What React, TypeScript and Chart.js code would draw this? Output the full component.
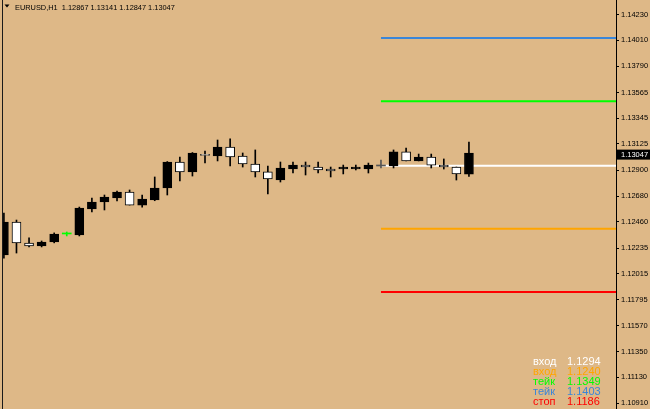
import React, { useEffect, useRef } from 'react';
import { Chart, registerables } from 'chart.js';

Chart.register(...registerables);

const SYMBOL = 'EURUSD';
const TIMEFRAME = 'H1';

const OPEN = [
  1.12176, 1.12458, 1.12279, 1.12253, 1.12287, 1.12356, 1.12347, 1.12569, 1.12629, 1.12663,
  1.12715, 1.12603, 1.12646, 1.12749, 1.12971, 1.12886, 1.13036, 1.13022, 1.13099, 1.13022,
  1.12954, 1.12886, 1.12817, 1.12911, 1.12945, 1.12928, 1.12911, 1.12911, 1.12911, 1.12911,
  1.12937, 1.12937, 1.13057, 1.12980, 1.13014, 1.12945, 1.12928, 1.12867,
];
const HIGH = [
  1.12535, 1.12475, 1.12322, 1.12296, 1.12365, 1.12373, 1.12586, 1.12663, 1.12689, 1.12723,
  1.12732, 1.12689, 1.12843, 1.12975, 1.13014, 1.13052, 1.13065, 1.13159, 1.13168, 1.13048,
  1.13074, 1.12937, 1.12971, 1.12971, 1.12971, 1.12971, 1.12928, 1.12945, 1.12945, 1.12962,
  1.12988, 1.13074, 1.13091, 1.13039, 1.13039, 1.12997, 1.12928, 1.13141,
];
const LOW = [
  1.12150, 1.12193, 1.12245, 1.12245, 1.12280, 1.12339, 1.12339, 1.12544, 1.12561, 1.12638,
  1.12603, 1.12586, 1.12640, 1.12689, 1.12809, 1.12851, 1.12963, 1.12980, 1.12937, 1.12928,
  1.12843, 1.12698, 1.12800, 1.12877, 1.12860, 1.12877, 1.12843, 1.12869, 1.12903, 1.12877,
  1.12920, 1.12920, 1.12980, 1.12980, 1.12920, 1.12911, 1.12817, 1.12847,
];
const CLOSE = [
  1.12458, 1.12279, 1.12253, 1.12287, 1.12356, 1.12356, 1.12578, 1.12629, 1.12672, 1.12715,
  1.12603, 1.12655, 1.12749, 1.12971, 1.12886, 1.13048, 1.13028, 1.13099, 1.13014, 1.12954,
  1.12886, 1.12826, 1.12920, 1.12945, 1.12928, 1.12903, 1.12894, 1.12928, 1.12928, 1.12945,
  1.12937, 1.13057, 1.12980, 1.13014, 1.12945, 1.12928, 1.12869, 1.13047,
];

const Y_TICKS = [
  1.14230, 1.14010, 1.13790, 1.13565, 1.13345, 1.13125, 1.12900, 1.12680,
  1.12460, 1.12235, 1.12015, 1.11795, 1.11570, 1.11350, 1.11130, 1.10910,
];

const LEVEL_NAMES = ['вход', 'вход', 'тейк', 'тейк', 'стоп'];
const LEVEL_VALUES = [1.1294, 1.1240, 1.1349, 1.1403, 1.1186];
const LEVEL_COLORS = ['#FFFFFF', '#FFA500', '#00FF00', '#3A86D8', '#FF0000'];
const LEVEL_START = 30;

const Y_MIN = 1.1086;
const Y_MAX = 1.143556;
const X_MIN = -0.072;
const X_MAX = 48.7;

const BG = '#DEB887';

function dojiColor(i: number) {
  return i === 5 ? '#00FF00' : '#555555';
}

function bodyFill(i: number) {
  const o = OPEN[i];
  const c = CLOSE[i];
  if (o === c) return dojiColor(i);
  return c > o ? '#000000' : '#FFFFFF';
}

function bodyBorder(i: number) {
  return OPEN[i] === CLOSE[i] ? dojiColor(i) : '#000000';
}

const overlay = {
  id: 'overlay',
  afterDraw(chart: any) {
    const ctx = chart.ctx as CanvasRenderingContext2D;
    const ys = chart.scales.y;
    ctx.save();
    // left border
    ctx.fillStyle = '#1a1a1a';
    ctx.fillRect(2, 0, 1, chart.height);
    // title
    ctx.fillStyle = '#000';
    ctx.beginPath();
    ctx.moveTo(4.5, 4.5);
    ctx.lineTo(9.5, 4.5);
    ctx.lineTo(7, 7.5);
    ctx.closePath();
    ctx.fill();
    const n = CLOSE.length - 1;
    const title = `${SYMBOL},${TIMEFRAME}  ${OPEN[n].toFixed(5)} ${HIGH[n].toFixed(5)} ${LOW[n].toFixed(5)} ${CLOSE[n].toFixed(5)}`;
    ctx.font = '7.4px "Liberation Sans"';
    ctx.textAlign = 'left';
    ctx.textBaseline = 'alphabetic';
    ctx.fillText(title, 15, 9.5);
    // current price box
    const last = CLOSE[n];
    const py = ys.getPixelForValue(last);
    ctx.fillStyle = '#000';
    ctx.fillRect(617, py - 3.5, 33, 10);
    ctx.fillStyle = '#FFF';
    ctx.font = '7.5px "Liberation Sans"';
    ctx.textBaseline = 'middle';
    ctx.fillText(last.toFixed(5), 621, py + 1.5);
    // legend of levels
    ctx.font = '11px "Liberation Sans"';
    ctx.textBaseline = 'alphabetic';
    LEVEL_NAMES.forEach((name, i) => {
      ctx.fillStyle = LEVEL_COLORS[i];
      ctx.fillText(name, 533, 365 + 10 * i);
      ctx.fillText(LEVEL_VALUES[i].toFixed(4), 567, 365 + 10 * i);
    });
    ctx.restore();
  },
};

export default function App() {
  const ref = useRef<HTMLCanvasElement | null>(null);

  useEffect(() => {
    if (!ref.current) return;
    const idx = OPEN.map((_, i) => i);
    const levelSets = LEVEL_VALUES.map((v, i) => ({
      type: 'line' as const,
      data: [
        { x: LEVEL_START, y: v },
        { x: X_MAX, y: v },
      ],
      borderColor: LEVEL_COLORS[i],
      borderWidth: 2,
      pointRadius: 0,
      fill: false,
      order: 3,
    }));
    const chart = new Chart(ref.current, {
      type: 'bar',
      data: {
        datasets: [
          ...levelSets,
          {
            type: 'bar',
            data: idx.map((i) => ({ x: i, y: [LOW[i], HIGH[i]] })),
            backgroundColor: idx.map((i) => (OPEN[i] === CLOSE[i] ? dojiColor(i) : '#000000')),
            borderWidth: 0,
            barThickness: 1,
            grouped: false,
            minBarLength: 1,
            order: 2,
          },
          {
            type: 'bar',
            data: idx.map((i) => ({ x: i, y: [OPEN[i], CLOSE[i]] })),
            backgroundColor: idx.map((i) => bodyFill(i)),
            borderColor: idx.map((i) => bodyBorder(i)),
            borderWidth: idx.map((i) => (OPEN[i] === CLOSE[i] ? 0 : 1)),
            borderSkipped: false,
            barThickness: 9,
            grouped: false,
            minBarLength: 1,
            order: 1,
          },
        ] as any,
      },
      options: {
        animation: false,
        responsive: false,
        maintainAspectRatio: false,
        layout: { padding: { left: 3, right: 0, top: 0, bottom: 0 } },
        plugins: {
          legend: { display: false },
          tooltip: { enabled: false },
        },
        scales: {
          x: {
            type: 'linear',
            display: false,
            min: X_MIN,
            max: X_MAX,
            offset: false,
          },
          y: {
            type: 'linear',
            position: 'right',
            min: Y_MIN,
            max: Y_MAX,
            afterBuildTicks: (scale: any) => {
              scale.ticks = Y_TICKS.map((v) => ({ value: v }));
            },
            afterFit: (scale: any) => {
              scale.width = 34;
              scale.paddingTop = 0;
              scale.paddingBottom = 0;
            },
            grid: {
              display: true,
              drawOnChartArea: false,
              drawTicks: true,
              tickLength: 3,
              color: '#000000',
            },
            border: { display: true, color: '#000000', width: 1 },
            ticks: {
              autoSkip: false,
              padding: 2,
              color: '#000000',
              font: { family: 'Liberation Sans', size: 7.5 },
              callback: (v: any) => Number(v).toFixed(5),
            },
          },
        },
      } as any,
      plugins: [overlay],
    });
    return () => chart.destroy();
  }, []);

  return (
    <div
      style={{
        position: 'fixed',
        left: 0,
        top: 0,
        width: 650,
        height: 409,
        background: BG,
        overflow: 'hidden',
      }}
    >
      <canvas ref={ref} width={650} height={409} style={{ display: 'block' }} />
    </div>
  );
}
